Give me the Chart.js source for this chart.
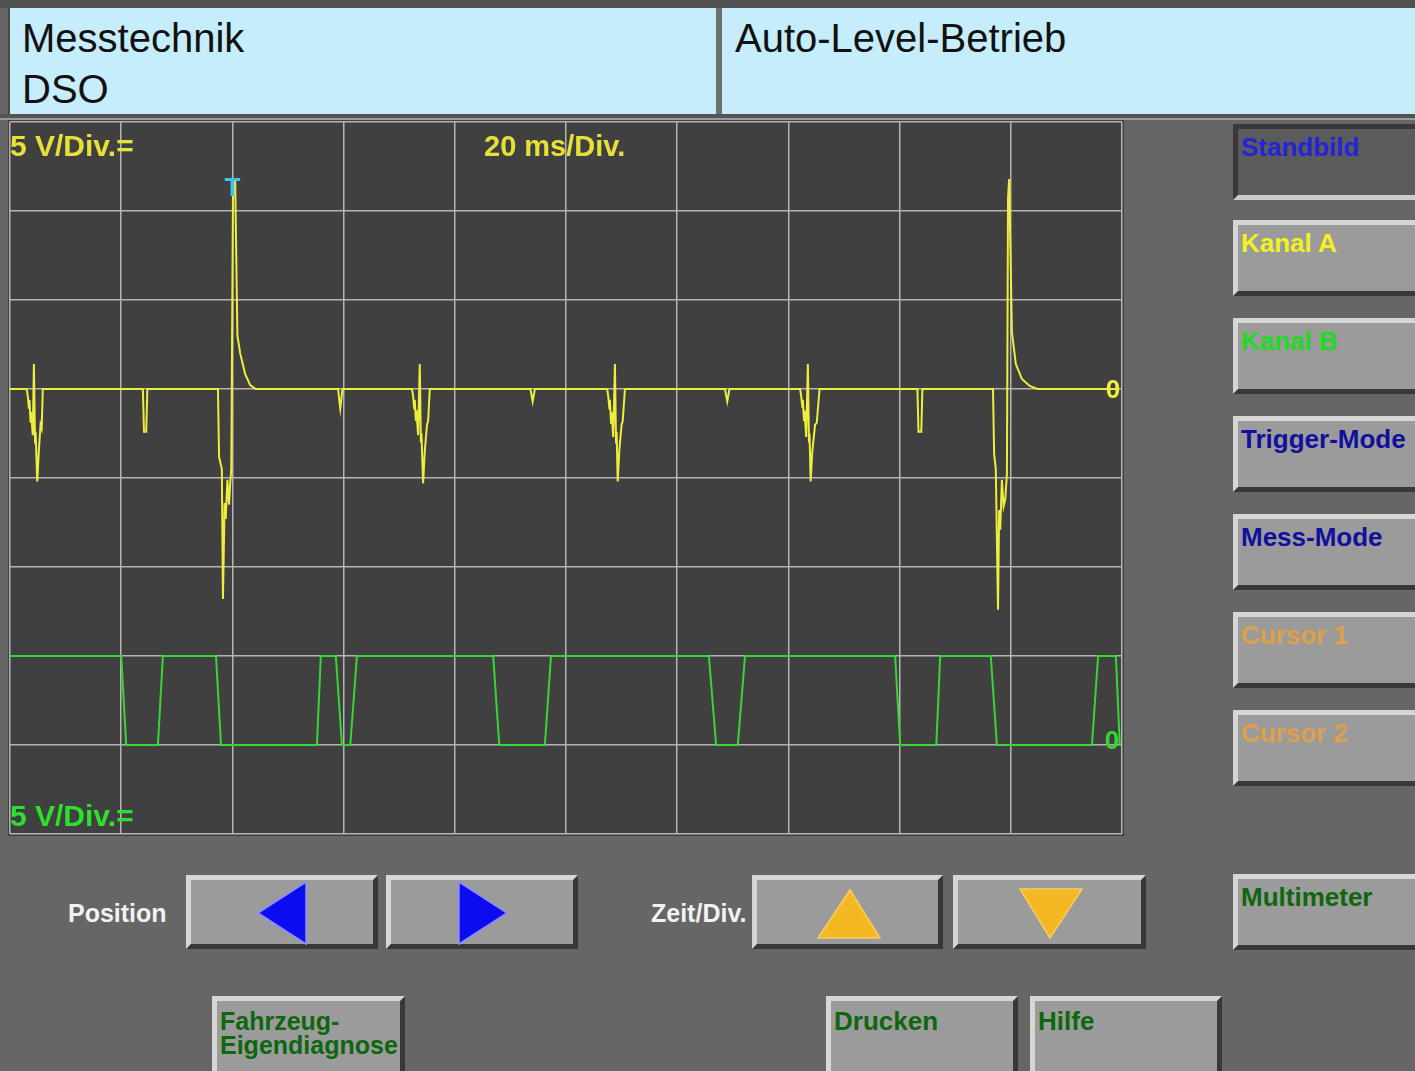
<!DOCTYPE html>
<html>
<head>
<meta charset="utf-8">
<script src="https://cdn.jsdelivr.net/npm/chart.js@4.4.1/dist/chart.umd.min.js"></script>
<style>
  body { margin: 0; width: 1415px; height: 1071px; overflow: hidden; background: #666666; position: relative; font-family: "Liberation Sans", Arial, sans-serif; }
  .abs { position: absolute; }
  .panel { position: absolute; top: 8px; height: 106px; background: #c6edfb; }
  .head { position: absolute; font-size: 40px; line-height: 40px; color: #111; }
  .btn { position: absolute; box-sizing: border-box; height: 76px; background: #9b9b9b; border: 5px solid; border-color: #d6d6d6 #383838 #383838 #d6d6d6; font-weight: bold; font-size: 26px; line-height: 24px; padding: 6px 0 0 3px; white-space: nowrap; }
  .btn.down { background: #5b5b5b; border-color: #383838 #cccccc #cccccc #383838; }
  .lbl { position: absolute; font-weight: bold; font-size: 25px; line-height: 24px; color: #f2f2f2; }
  #scope { position: absolute; left: 8px; top: 120px; width: 1116px; height: 716px; background: #404040; }
</style>
</head>
<body>
<div class="abs" style="left:0;top:0;width:1415px;height:8px;background:#505050"></div>
<div class="panel" style="left:8px;width:708px;border-left:2px solid #4a4a4a"></div>
<div class="panel" style="left:722px;width:693px"></div>
<div class="abs" style="left:716px;top:8px;width:6px;height:106px;background:#6e6e6e"></div>
<div class="abs" style="left:0;top:114px;width:1415px;height:4px;background:#545454"></div>
<div class="abs" style="left:0;top:118px;width:1415px;height:2px;background:#9a9a9a"></div>
<div class="head" style="left:22px;top:18px">Messtechnik</div>
<div class="head" style="left:22px;top:69px">DSO</div>
<div class="head" style="left:735px;top:18px">Auto-Level-Betrieb</div>

<div id="scope"><canvas id="scopeChart" width="1116" height="716"></canvas></div>

<div class="btn down" style="left:1233px;top:124px;width:190px;color:#2323d8">Standbild</div>
<div class="btn" style="left:1233px;top:220px;width:190px;color:#f2f21e">Kanal A</div>
<div class="btn" style="left:1233px;top:318px;width:190px;color:#20dc20">Kanal B</div>
<div class="btn" style="left:1233px;top:416px;width:190px;color:#10109c">Trigger-Mode</div>
<div class="btn" style="left:1233px;top:514px;width:190px;color:#10109c">Mess-Mode</div>
<div class="btn" style="left:1233px;top:612px;width:190px;color:#dea048">Cursor 1</div>
<div class="btn" style="left:1233px;top:710px;width:190px;color:#dea048">Cursor 2</div>
<div class="btn" style="left:1233px;top:874px;width:190px;color:#0e660e">Multimeter</div>

<div class="lbl" style="left:68px;top:901px">Position</div>
<div class="btn" style="left:186px;top:875px;width:192px;height:74px">
  <svg class="abs" style="left:-5px;top:-5px" width="192" height="74"><polygon points="120,7 120,69 72,38" fill="#0c0cf0" stroke="#8c8cff" stroke-width="1.5"/></svg>
</div>
<div class="btn" style="left:386px;top:875px;width:192px;height:74px">
  <svg class="abs" style="left:-5px;top:-5px" width="192" height="74"><polygon points="73,7 73,69 121,38" fill="#0c0cf0" stroke="#8c8cff" stroke-width="1.5"/></svg>
</div>
<div class="lbl" style="left:651px;top:901px">Zeit/Div.</div>
<div class="btn" style="left:752px;top:875px;width:191px;height:74px">
  <svg class="abs" style="left:-5px;top:-5px" width="191" height="74"><polygon points="98,15 128,63 66,63" fill="#f4b822" stroke="#f8cc60" stroke-width="1.5"/></svg>
</div>
<div class="btn" style="left:953px;top:875px;width:193px;height:74px">
  <svg class="abs" style="left:-5px;top:-5px" width="193" height="74"><polygon points="67,14 129,14 97,63" fill="#f4b822" stroke="#f8cc60" stroke-width="1.5"/></svg>
</div>

<div class="btn" style="left:212px;top:996px;width:193px;height:82px;padding-top:8px;font-size:25px;color:#0e660e">Fahrzeug-<br>Eigendiagnose</div>
<div class="btn" style="left:826px;top:996px;width:192px;height:82px;padding-top:8px;color:#0e660e">Drucken</div>
<div class="btn" style="left:1030px;top:996px;width:192px;height:82px;padding-top:8px;color:#0e660e">Hilfe</div>

<script>
// channel A (yellow), time in ms, volts (5 V/Div, zero on 3rd line from top)
const chanATime = [
  0, 3.0, 3.2, 3.4, 3.5, 3.7, 3.8, 4.1, 4.3, 4.5, 4.6, 4.9, 5.2, 5.5, 5.7, 5.9,
  23.9, 24.1, 24.5, 24.7,
  37.4, 37.6, 38.1, 38.3, 38.6, 38.8, 39.1, 39.4, 39.6, 39.8, 40.1, 40.5, 40.7, 40.9, 41.4, 42.3, 43.2, 44.2,
  59.0, 59.4, 59.8,
  72.3, 72.5, 72.7, 72.8, 73.0, 73.1, 73.4, 73.7, 73.9, 74.0, 74.3, 74.6, 75.0, 75.2, 75.5,
  93.6, 94.0, 94.4,
  107.4, 107.6, 107.8, 107.9, 108.1, 108.2, 108.5, 108.8, 109.0, 109.1, 109.3, 109.6, 110.0, 110.2, 110.6,
  128.6, 129.0, 129.4,
  142.1, 142.3, 142.5, 142.6, 142.8, 142.9, 143.2, 143.5, 143.7, 143.8, 144.0, 144.3, 144.8, 145.1, 145.6,
  163.2, 163.4, 163.9, 164.1,
  176.8, 177.0, 177.3, 177.7, 177.9, 178.1, 178.4, 178.7, 179.0, 179.3, 179.5, 179.7, 180.0, 180.2, 180.9, 182.0, 183.4, 184.8,
  199.4
];
const chanAVolt = [
  0, 0, -0.4, -1.1, -0.6, -1.9, -1.3, -2.6, 1.4, -3.0, -2.4, -5.2, -3.4, -2.0, -2.2, 0,
  0, -2.4, -2.4, 0,
  0, -3.8, -4.5, -11.8, -6.4, -7.3, -5.1, -6.5, -5.3, -4.5, 10.7, 11.8, 7.3, 3.0, 2.0, 0.84, 0.22, 0,
  0, -1.1, 0,
  0, -0.4, -1.1, -0.6, -1.8, -1.2, -2.6, 1.4, -3.0, -2.5, -5.3, -3.5, -2.0, -1.8, 0,
  0, -0.7, 0,
  0, -0.4, -1.1, -0.6, -1.9, -1.3, -2.7, 1.4, -3.0, -2.4, -5.2, -3.4, -2.0, -1.8, 0,
  0, -0.7, 0,
  0, -0.4, -1.0, -0.6, -1.8, -1.2, -2.7, 1.4, -3.0, -2.5, -5.2, -3.5, -2.0, -1.9, 0,
  0, -2.4, -2.4, 0,
  0, -3.65, -4.5, -12.4, -6.8, -7.9, -5.1, -6.6, -6.2, -4.8, 10.7, 11.8, 6.7, 3.2, 1.4, 0.56, 0.17, 0,
  0
];

// channel B (green), zero on 7th line from top
const chanBTime = [
  0, 20.0, 20.9, 26.6, 27.5, 37.05, 37.95, 55.2, 55.9, 58.6, 59.7, 61.2, 62.4,
  86.9, 88.0, 96.2, 97.3, 125.7, 127.0, 130.9, 132.2, 159.2, 160.1, 166.6, 167.3,
  176.4, 177.5, 194.6, 195.7, 198.9, 199.6
];
const chanBVolt = [
  5, 5, 0, 0, 5, 5, 0, 0, 5, 5, 0, 0, 5,
  5, 0, 0, 5, 5, 0, 0, 5, 5, 0, 0, 5,
  5, 0, 0, 5, 5, 0
];

const timeDivs = [0, 20, 40, 60, 80, 100, 120, 140, 160, 180, 200];
const triggerTime = 40;

const yellow = "#eeee3c";
const green = "#36d636";
const gridColor = "#b4b4b4";

function toPoints(ts, vs) {
  return ts.map((t, i) => ({ x: t, y: vs[i] }));
}

/* ====================
   LABELS ON THE SCREEN
==================== */
const scopeLabels = {
  id: "scopeLabels",
  afterDatasetsDraw(chart) {
    const { ctx, chartArea: a, scales } = chart;
    ctx.save();
    ctx.font = 'bold 30px "Liberation Sans", Arial, sans-serif';
    ctx.textAlign = "left";
    ctx.textBaseline = "alphabetic";
    ctx.fillStyle = "#e6e038";
    ctx.fillText("5 V/Div.=", a.left, a.top + 34);
    ctx.font = 'bold 29px "Liberation Sans", Arial, sans-serif';
    ctx.fillText("20 ms/Div.", a.left + 474, a.top + 34);
    ctx.font = 'bold 30px "Liberation Sans", Arial, sans-serif';
    ctx.fillStyle = "#2ee02e";
    ctx.fillText("5 V/Div.=", a.left, a.bottom - 8);

    ctx.font = 'bold 26px "Liberation Sans", Arial, sans-serif';
    ctx.textAlign = "center";
    ctx.fillStyle = "#3ec6e6";
    ctx.fillText("T", scales.x.getPixelForValue(triggerTime), a.top + 74);

    ctx.textBaseline = "middle";
    ctx.font = 'bold 26px "Liberation Sans", Arial, sans-serif';
    ctx.fillStyle = yellow;
    ctx.fillText("0", scales.x.getPixelForValue(200) - 9, scales.yA.getPixelForValue(0) + 2);
    ctx.fillStyle = green;
    ctx.fillText("0", scales.x.getPixelForValue(200) - 10, scales.yB.getPixelForValue(0) - 3);
    ctx.restore();
  }
};

new Chart(document.getElementById("scopeChart"), {
  type: "line",
  data: {
    datasets: [
      {
        data: toPoints(chanATime, chanAVolt),
        borderColor: yellow,
        borderWidth: 2,
        pointRadius: 0,
        tension: 0,
        yAxisID: "yA"
      },
      {
        data: toPoints(chanBTime, chanBVolt),
        borderColor: green,
        borderWidth: 2,
        pointRadius: 0,
        tension: 0,
        yAxisID: "yB"
      }
    ]
  },
  options: {
    responsive: false,
    animation: false,
    layout: { padding: 2 },
    plugins: { legend: { display: false }, tooltip: { enabled: false } },
    scales: {
      x: {
        type: "linear",
        min: 0,
        max: 200,
        afterBuildTicks: scale => { scale.ticks = timeDivs.map(v => ({ value: v })); },
        ticks: { display: false },
        grid: { color: gridColor, lineWidth: 1.5, drawTicks: false },
        border: { display: false }
      },
      yA: {
        type: "linear",
        position: "left",
        min: -25,
        max: 15,
        ticks: { stepSize: 5, display: false },
        grid: { color: gridColor, lineWidth: 1.5, drawTicks: false },
        border: { display: false }
      },
      yB: {
        type: "linear",
        min: -5,
        max: 35,
        display: false
      }
    }
  },
  plugins: [scopeLabels]
});
</script>
</body>
</html>
